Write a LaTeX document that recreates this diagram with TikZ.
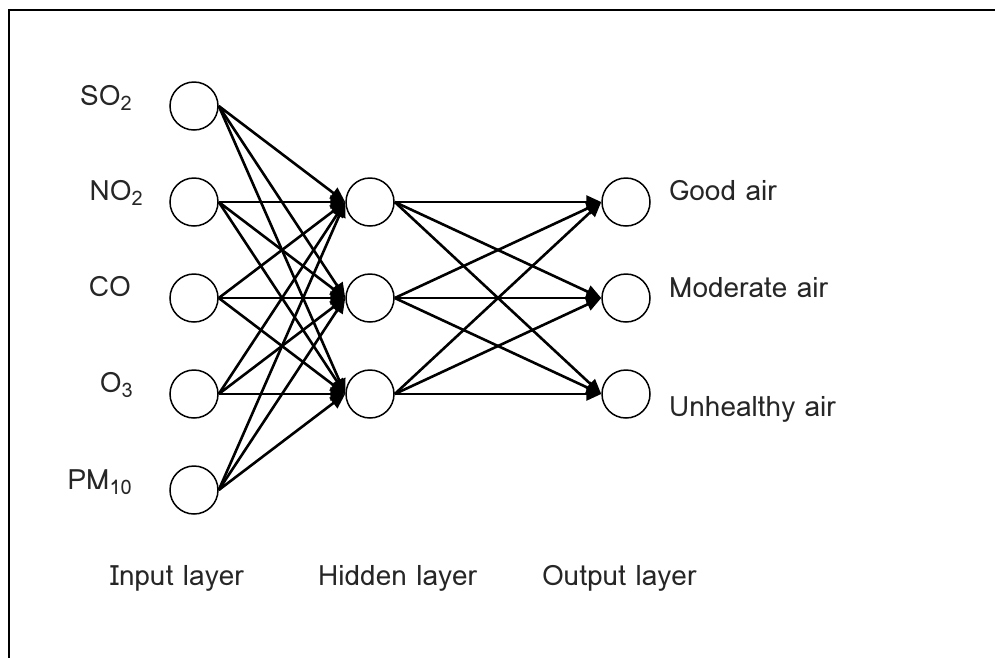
\documentclass[tikz,border=0pt]{standalone}
\usepackage{fontspec}
\setmainfont{Loma}
\usetikzlibrary{arrows.meta}
\newcommand{\lowsub}[1]{\raisebox{-5pt}{\fontsize{20}{22}\selectfont #1}}
\begin{document}
\begin{tikzpicture}[x=1pt,y=-1pt,
  neuron/.style={circle,draw,line width=1.5pt,minimum size=48pt,inner sep=0pt},
  conn/.style={line width=2.6pt,-{Triangle[length=15pt,width=13pt]}},
  lbl/.style={font=\fontsize{28}{30}\selectfont,inner sep=0pt,text=black!85}]
\useasboundingbox (0,0) rectangle (995,657);
\clip (0,0) rectangle (995,657);
\draw[line width=2pt] (9,700) -- (9,9.5) -- (1100,9.5);
% input nodes
\node[neuron] (i1) at (194,106) {};
\node[neuron] (i2) at (194,202) {};
\node[neuron] (i3) at (194,298) {};
\node[neuron] (i4) at (194,394) {};
\node[neuron] (i5) at (194,490) {};
% hidden nodes
\node[neuron] (h1) at (370,202) {};
\node[neuron] (h2) at (370,298) {};
\node[neuron] (h3) at (370,394) {};
% output nodes
\node[neuron] (o1) at (626,202) {};
\node[neuron] (o2) at (626,298) {};
\node[neuron] (o3) at (626,394) {};
% connections
\foreach \i in {1,...,5}{\foreach \h in {1,2,3}{\draw[conn] (i\i.east) -- (h\h.west);}}
\foreach \h in {1,2,3}{\foreach \o in {1,2,3}{\draw[conn] (h\h.east) -- (o\o.west);}}
% input labels
\node[lbl,anchor=base east] (l1) at (132,105) {SO\lowsub{2}};
\node[lbl,anchor=base east] (l2) at (143,200) {NO\lowsub{2}};
\node[lbl,anchor=base east] (l3) at (131,296) {CO};
\node[lbl,anchor=base east] (l4) at (133,392) {O\lowsub{3}};
\node[lbl,anchor=base east] (l5) at (132,489) {PM\lowsub{10}};
% output labels
\node[lbl,anchor=base west] (r1) at (669,200) {Good air};
\node[lbl,anchor=base west] (r2) at (669,297) {Moderate air};
\node[lbl,anchor=base west] (r3) at (669,416) {Unhealthy air};
% layer labels
\node[lbl,anchor=base west] (t1) at (110,585) {Input layer};
\node[lbl,anchor=base west] (t2) at (318,585) {Hidden layer};
\node[lbl,anchor=base west] (t3) at (542,585) {Output layer};
\end{tikzpicture}
\end{document}
